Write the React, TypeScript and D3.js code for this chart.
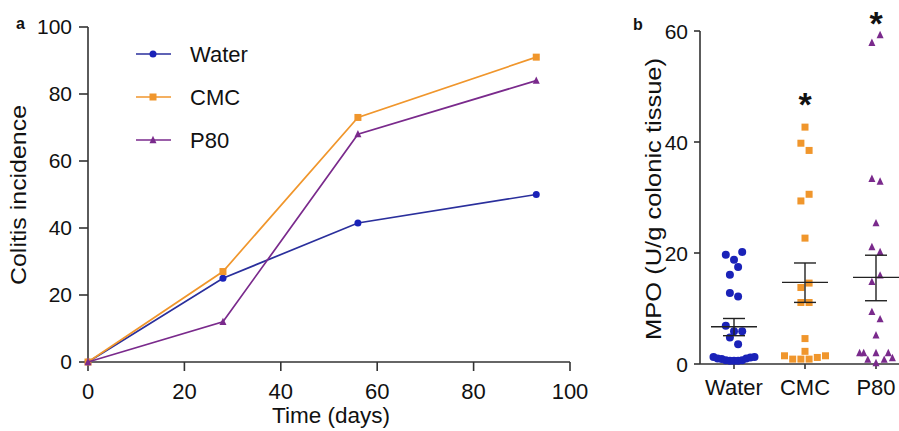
import React from "react";
import * as d3 from "d3";

const days = [0, 28, 56, 93];
const waterIncidence = [0, 25, 41.5, 50];
const cmcIncidence = [0, 27, 73, 91];
const p80Incidence = [0, 12, 68, 84];
const incidenceTicks = [0, 20, 40, 60, 80, 100];
const dayTicks = [0, 20, 40, 60, 80, 100];

const groups = ["Water", "CMC", "P80"];
// MPO values with horizontal jitter offsets (in units of point spacing)
const waterMPO = [19.5, 20.0, 18.6, 17.3, 15.9, 12.6, 12.0, 6.7, 5.7, 5.7, 4.6, 3.4, 1.1, 0.8, 0.7, 0.5, 0.4, 0.4, 0.4, 0.5, 0.8, 1.0, 1.1];
const waterJit = [-2, 2, 0, 1, -1, -1, 1, -2, 0, 2, -1, 1, -5, -4, -3, -2, -1, 0, 1, 2, 3, 4, 5];
const cmcMPO = [42.5, 39.6, 38.3, 30.4, 29.2, 22.5, 14.4, 13.6, 10.9, 10.9, 4.4, 2.1, 1.3, 0.7, 0.7, 0.7, 1.0, 1.3];
const cmcJit = [0, -1, 1, 1, -1, 0, 1, -1, -1, 1, 0, 0, -5, -3, -1, 1, 3, 5];
const p80MPO = [59.1, 57.7, 33.2, 32.7, 25.2, 20.9, 20.0, 15.8, 14.6, 9.2, 7.9, 5.0, 1.8, 1.8, 1.8, 1.8, 0.6, 0.0, 0.6, 0.9];
const p80Jit = [1, -1, -1, 1, 0, -1, 1, 1, -1, -1, 1, 0, -4, -3, 0, 3, -2, 0, 2, 4];
const meanMPO = [6.7, 14.7, 15.6];
const semUpper = [8.2, 18.2, 19.6];
const semLower = [5.1, 11.1, 11.4];
const starValues = [null, 47.9, 62.6];
const mpoTicks = [0, 20, 40, 60];

const BLUE = "#1a22b8";
const BLUE_LINE = "#2a2f9c";
const ORANGE = "#f0962c";
const PURPLE = "#7a2a8c";
const AXIS = "#333";
const FONT = "'Liberation Sans', Arial, sans-serif";

export default function App() {
  // Panel a
  const xA = d3.scaleLinear().domain([0, 100]).range([88, 570]);
  const yA = d3.scaleLinear().domain([0, 100]).range([362, 27]);
  const line = d3
    .line<number>()
    .x((_, i) => xA(days[i]))
    .y((d) => yA(d));

  const seriesA = [
    { name: "Water", data: waterIncidence, color: BLUE_LINE, mark: BLUE, shape: "circle" },
    { name: "CMC", data: cmcIncidence, color: ORANGE, mark: ORANGE, shape: "square" },
    { name: "P80", data: p80Incidence, color: PURPLE, mark: PURPLE, shape: "triangle" },
  ];

  const marker = (shape: string, x: number, y: number, color: string, size: number, key: string) => {
    if (shape === "circle") return <circle key={key} cx={x} cy={y} r={size / 2} fill={color} />;
    if (shape === "square")
      return <rect key={key} x={x - size / 2} y={y - size / 2} width={size} height={size} fill={color} />;
    const h = size * 0.9;
    return (
      <path
        key={key}
        d={`M${x},${y - h / 2 - 1}L${x + size / 2},${y + h / 2}L${x - size / 2},${y + h / 2}Z`}
        fill={color}
      />
    );
  };

  // Panel b
  const xB = d3.scalePoint<string>().domain(groups).range([734, 876]);
  const yB = d3.scaleLinear().domain([0, 60]).range([364, 31]);
  const groupData = [
    { vals: waterMPO, jit: waterJit, color: BLUE, shape: "circle", size: 8 },
    { vals: cmcMPO, jit: cmcJit, color: ORANGE, shape: "square", size: 7 },
    { vals: p80MPO, jit: p80Jit, color: PURPLE, shape: "triangle", size: 7 },
  ];

  return (
    <svg
      width={899}
      height={431}
      style={{ position: "absolute", left: 0, top: 0, background: "#fff" }}
      fontFamily={FONT}
      fill="#111"
    >
      {/* Panel a */}
      <text x={16} y={29} fontSize={16} fontWeight="bold">a</text>
      <line x1={88} x2={88} y1={yA(100)} y2={362} stroke={AXIS} strokeWidth={1.6} />
      <line x1={88} x2={570} y1={362} y2={362} stroke={AXIS} strokeWidth={1.6} />
      {incidenceTicks.map((t) => (
        <g key={"ya" + t}>
          <line x1={79} x2={88} y1={yA(t)} y2={yA(t)} stroke={AXIS} strokeWidth={1.6} />
          <text x={72} y={yA(t) + 7} fontSize={21} textAnchor="end">{t}</text>
        </g>
      ))}
      {dayTicks.map((t) => (
        <g key={"xa" + t}>
          <line x1={xA(t)} x2={xA(t)} y1={362} y2={371} stroke={AXIS} strokeWidth={1.6} />
          <text x={xA(t)} y={399} fontSize={22} textAnchor="middle">{t}</text>
        </g>
      ))}
      <text x={331} y={423} fontSize={22} textAnchor="middle" textLength={118} lengthAdjust="spacingAndGlyphs">Time (days)</text>
      <text transform="translate(26,195) rotate(-90)" fontSize={22} textAnchor="middle" textLength={180} lengthAdjust="spacingAndGlyphs">Colitis incidence</text>
      {seriesA.map((s) => (
        <g key={s.name}>
          <path d={line(s.data) || ""} fill="none" stroke={s.color} strokeWidth={1.7} />
          {s.data.map((v, i) => marker(s.shape, xA(days[i]), yA(v), s.mark, 7, s.name + i))}
        </g>
      ))}
      {seriesA.map((s, i) => (
        <g key={"leg" + s.name}>
          <line x1={136} x2={171} y1={54 + i * 43} y2={54 + i * 43} stroke={s.color} strokeWidth={1.7} />
          {marker(s.shape, 153, 54 + i * 43, s.mark, 7, "lm" + i)}
          <text x={190} y={54 + i * 43 + 8} fontSize={22}>{s.name}</text>
        </g>
      ))}

      {/* Panel b */}
      <text x={633} y={30} fontSize={16} fontWeight="bold">b</text>
      <line x1={700} x2={700} y1={yB(60)} y2={364} stroke={AXIS} strokeWidth={1.6} />
      <line x1={700} x2={899} y1={364} y2={364} stroke={AXIS} strokeWidth={1.6} />
      {mpoTicks.map((t) => (
        <g key={"yb" + t}>
          <line x1={694} x2={700} y1={yB(t)} y2={yB(t)} stroke={AXIS} strokeWidth={1.6} />
          <text x={688} y={yB(t) + 8} fontSize={21} textAnchor="end">{t}</text>
        </g>
      ))}
      {groups.map((g) => (
        <g key={"xb" + g}>
          <line x1={xB(g)} x2={xB(g)} y1={364} y2={369} stroke={AXIS} strokeWidth={1.6} />
          <text x={xB(g)} y={395} fontSize={22} textAnchor="middle">{g}</text>
        </g>
      ))}
      <text transform="translate(661,199) rotate(-90)" fontSize={22} textAnchor="middle" textLength={282} lengthAdjust="spacingAndGlyphs">MPO (U/g colonic tissue)</text>
      {groupData.map((gd, gi) => {
        const cx = xB(groups[gi]) as number;
        return (
          <g key={"pts" + gi}>
            {gd.vals.map((v, i) =>
              marker(gd.shape, cx + gd.jit[i] * 4.1, yB(v) - 1, gd.color, gd.size, "p" + gi + "_" + i)
            )}
          </g>
        );
      })}
      {groups.map((g, i) => {
        const cx = xB(g) as number;
        return (
          <g key={"sem" + g} stroke="#222" strokeWidth={1.4}>
            <line x1={cx - 23} x2={cx + 23} y1={yB(meanMPO[i])} y2={yB(meanMPO[i])} />
            <line x1={cx} x2={cx} y1={yB(semUpper[i])} y2={yB(semLower[i])} />
            <line x1={cx - 11} x2={cx + 11} y1={yB(semUpper[i])} y2={yB(semUpper[i])} />
            <line x1={cx - 11} x2={cx + 11} y1={yB(semLower[i])} y2={yB(semLower[i])} />
          </g>
        );
      })}
      {groups.map((g, i) =>
        starValues[i] === null ? null : (
          <text key={"star" + g} x={xB(g)} y={yB(starValues[i] as number) + 18} fontSize={34} fontWeight="bold" textAnchor="middle">*</text>
        )
      )}
    </svg>
  );
}
